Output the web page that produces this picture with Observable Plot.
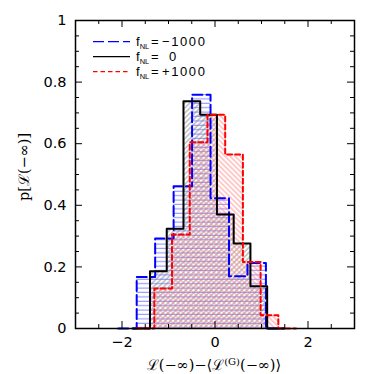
<!DOCTYPE html>
<html>
<head>
<meta charset="utf-8">
<script src="https://cdn.jsdelivr.net/npm/d3@7"></script>
<script src="https://cdn.jsdelivr.net/npm/@observablehq/plot@0.6"></script>
<style>
  html, body { margin: 0; padding: 0; background: #fff; }
</style>
</head>
<body>
<div id="chart"></div>
<script>
// ---- data ----
const seriesNames = ["−1000", "0", "+1000"];
const seriesColors = ["#0000ff", "#000000", "#ff0000"];
// bin starts (left edge of first, empty, bin) and bin widths
const binStarts = [-2.081, -1.758, -1.686];
const binWidths = [0.397, 0.360, 0.381];
const blueValues  = [0, 0.167, 0.292, 0.462, 0.759, 0.423, 0.170, 0.213, 0];
const blackValues = [0, 0.186, 0.324, 0.738, 0.694, 0.370, 0.276, 0.137, 0];
const redValues   = [0, 0.130, 0.305, 0.605, 0.694, 0.565, 0.216, 0.043, 0];
const seriesValues = [blueValues, blackValues, redValues];

const xMajor = [-2, 0, 2];
const xMajorLabels = ["−2", "0", "2"];
const xMinor = [-2.5, -1.5, -1, -0.5, 0.5, 1, 1.5, 2.5];
const yMajor = [0, 0.2, 0.4, 0.6, 0.8, 1];
const yMajorLabels = ["0", "0.2", "0.4", "0.6", "0.8", "1"];
const yMinor = [0.05, 0.1, 0.15, 0.25, 0.3, 0.35, 0.45, 0.5, 0.55, 0.65, 0.7, 0.75, 0.85, 0.9, 0.95];

// ---- layout ----
const W = 374, H = 374, ML = 75, MR = 20, MT = 20, MB = 46;
const plotW = W - ML - MR, plotH = H - MT - MB;
const majorLen = 7, minorLen = 4;

// ---- derived tables ----
const patterns = ["hatchBlue", "hatchBlack", "hatchRed"];
const dashes = ["10,4", null, "5,3"];
const bins = [], steps = [];
seriesValues.forEach((vals, s) => {
  vals.forEach((v, i) => {
    const x1 = binStarts[s] + i * binWidths[s];
    bins.push({s, x1, x2: x1 + binWidths[s], v});
    steps.push({s, x: x1, v});
  });
  steps.push({s, x: binStarts[s] + vals.length * binWidths[s], v: 0});
});

const fmtX = d => xMajorLabels[xMajor.indexOf(d)];
const fmtY = d => yMajorLabels[yMajor.findIndex(m => Math.abs(m - d) < 1e-9)];

const marks = [];
[0, 1, 2].forEach(s => {
  marks.push(Plot.rectY(bins.filter(b => b.s === s), {x1: "x1", x2: "x2", y: "v", fill: `url(#${patterns[s]})`}));
});
[0, 1, 2].forEach(s => {
  marks.push(Plot.line(steps.filter(d => d.s === s), {
    x: "x", y: "v", curve: "step-after",
    stroke: seriesColors[s], strokeWidth: 2, strokeDasharray: dashes[s]
  }));
});
// inward ticks on all four sides
for (const [vals, len] of [[xMinor, minorLen], [xMajor, majorLen]]) {
  marks.push(Plot.tickX(vals, {x: d => d, insetTop: plotH - len, stroke: "#000", strokeWidth: 1}));
  marks.push(Plot.tickX(vals, {x: d => d, insetBottom: plotH - len, stroke: "#000", strokeWidth: 1}));
}
for (const [vals, len] of [[yMinor, minorLen], [yMajor, majorLen]]) {
  marks.push(Plot.tickY(vals, {y: d => d, insetRight: plotW - len, stroke: "#000", strokeWidth: 1}));
  marks.push(Plot.tickY(vals, {y: d => d, insetLeft: plotW - len, stroke: "#000", strokeWidth: 1}));
}
marks.push(Plot.axisX({anchor: "bottom", ticks: xMajor, tickSize: 0, tickPadding: 8, tickFormat: fmtX, label: null}));
marks.push(Plot.axisY({anchor: "left", ticks: yMajor, tickSize: 0, tickPadding: 9, tickFormat: fmtY, label: null}));
marks.push(Plot.frame({stroke: "#000", strokeWidth: 1.5}));

const svg = Plot.plot({
  width: W,
  height: H,
  marginLeft: ML,
  marginRight: MR,
  marginTop: MT,
  marginBottom: MB,
  x: {domain: [-3, 3]},
  y: {domain: [0, 1]},
  style: {fontFamily: "'DejaVu Sans', sans-serif", fontSize: "14.5px", background: "#fff", color: "#000"},
  marks
});

// ---- hatch patterns ----
const sel = d3.select(svg);
const defs = sel.insert("defs", ":first-child");
const pb = defs.append("pattern").attr("id", "hatchBlue").attr("patternUnits", "userSpaceOnUse")
  .attr("width", 8).attr("height", 4.4);
pb.append("line").attr("x1", 0).attr("x2", 8).attr("y1", 2).attr("y2", 2)
  .attr("stroke", "#7878ff").attr("stroke-width", 0.9);
const pk = defs.append("pattern").attr("id", "hatchBlack").attr("patternUnits", "userSpaceOnUse")
  .attr("width", 3.6).attr("height", 3.6).attr("patternTransform", "rotate(45)");
pk.append("line").attr("x1", 1.8).attr("x2", 1.8).attr("y1", 0).attr("y2", 3.6)
  .attr("stroke", "#808080").attr("stroke-width", 0.8);
const pr = defs.append("pattern").attr("id", "hatchRed").attr("patternUnits", "userSpaceOnUse")
  .attr("width", 3.6).attr("height", 3.6).attr("patternTransform", "rotate(-45)");
pr.append("line").attr("x1", 1.8).attr("x2", 1.8).attr("y1", 0).attr("y2", 3.6)
  .attr("stroke", "#ff8080").attr("stroke-width", 0.8);

// ---- axis titles ----
const serif = "'DejaVu Serif', 'Liberation Serif', serif";
const xt = sel.append("text").attr("x", 214).attr("y", 370).attr("text-anchor", "middle")
  .attr("font-family", serif).attr("font-size", 14.5).attr("fill", "#000");
xt.append("tspan").text("ℒ(−∞)−⟨ℒ");
xt.append("tspan").attr("font-size", 10).attr("dy", -5.5).text("(G)");
xt.append("tspan").attr("dy", 5.5).text("(−∞)⟩");
sel.append("text").attr("transform", "translate(29,167) rotate(-90)").attr("text-anchor", "middle")
  .attr("font-family", serif).attr("font-size", 14.5).attr("fill", "#000").text("p[ℒ(−∞)]");

// ---- legend ----
const legendValueX = [162, 169, 162];
const lg = sel.append("g").attr("font-family", "'Liberation Sans', Arial, sans-serif")
  .attr("text-anchor", "start").attr("fill", "#000");
seriesNames.forEach((name, i) => {
  const y = 41.7 + 15 * i;
  lg.append("line").attr("x1", 93).attr("x2", 130).attr("y1", y).attr("y2", y)
    .attr("stroke", seriesColors[i]).attr("stroke-width", 1.2)
    .attr("stroke-dasharray", i === 0 ? "11,4" : i === 2 ? "4.5,3" : null);
  const t = lg.append("text").attr("x", 136).attr("y", y + 4).attr("font-size", 13);
  t.append("tspan").text("f");
  t.append("tspan").attr("font-size", 7.5).attr("dy", 3).text("NL");
  t.append("tspan").attr("x", 151).attr("dy", -3).text("=");
  t.append("tspan").attr("x", legendValueX[i]).attr("letter-spacing", 1.6).text(name);
});

document.getElementById("chart").appendChild(svg);
</script>
</body>
</html>
